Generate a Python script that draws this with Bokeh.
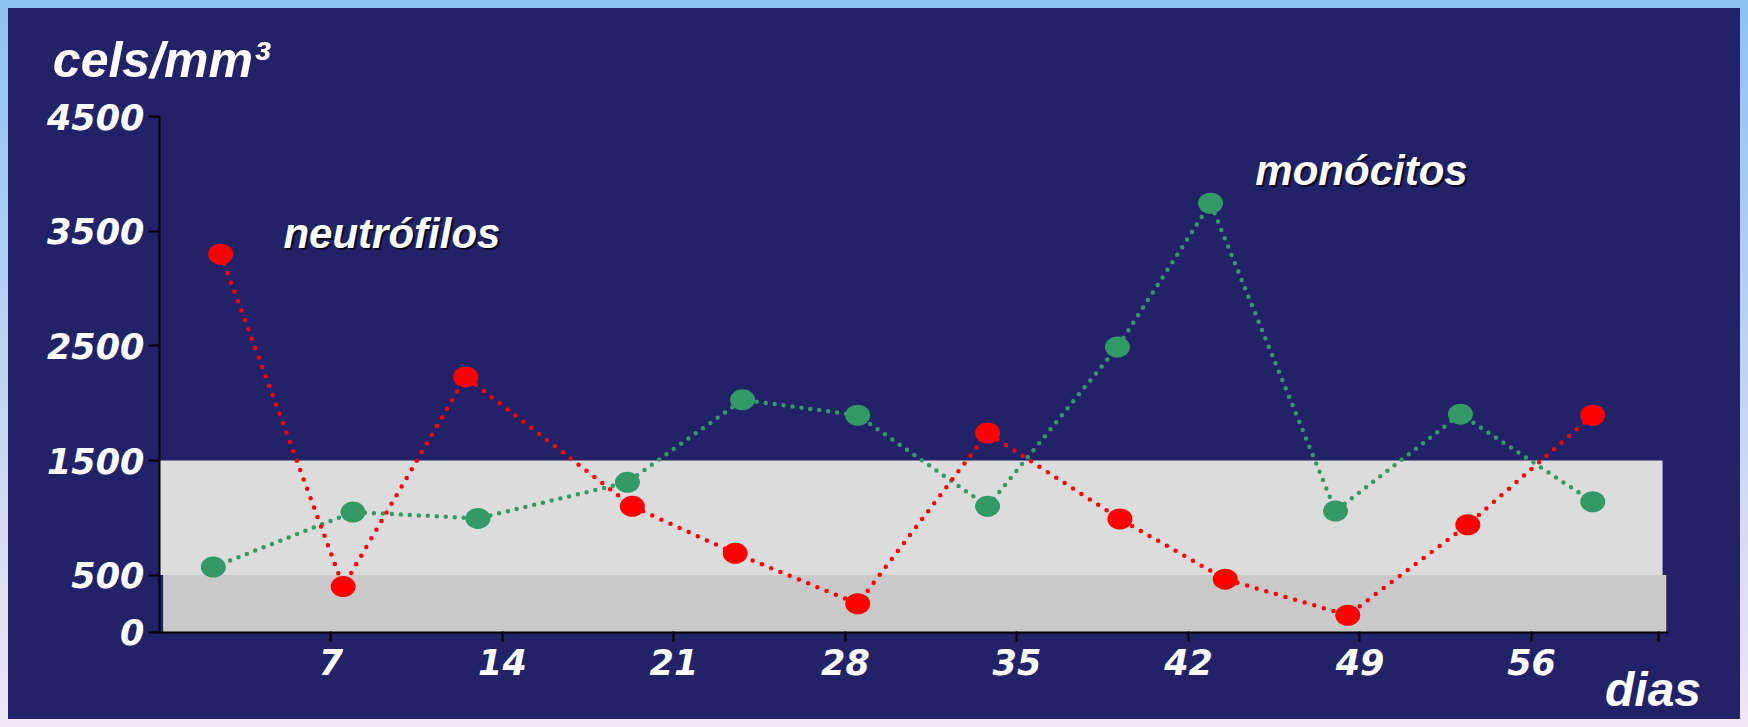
from bokeh.plotting import figure
from bokeh.models import Range1d, FixedTicker, Label, ColumnDataSource
from bokeh.embed import file_html
from bokeh.resources import INLINE

# ---- data ----
days_neu = [2.5, 7.5, 12.5, 19.3, 23.5, 28.5, 33.8, 39.2, 43.5, 48.5, 53.4, 58.5]
neutrofilos = [3300, 400, 2230, 1100, 690, 250, 1740, 990, 465, 150, 940, 1895]
days_mono = [2.2, 7.9, 13.0, 19.1, 23.8, 28.5, 33.8, 39.1, 42.9, 48.0, 53.1, 58.5]
monocitos = [570, 1050, 995, 1310, 2030, 1895, 1100, 2490, 3745, 1060, 1905, 1140]

x_ticks = [7, 14, 21, 28, 35, 42, 49, 56, 61.2]
x_tick_labels = ["7", "14", "21", "28", "35", "42", "49", "56", ""]
y_ticks = [0, 500, 1500, 2500, 3500, 4500]

band_bottom = [0, 500]
band_top = [500, 1500]
band_left = [0.15, 0.0]
band_right = [61.5, 61.35]
band_colors = ["#C9C9C9", "#DCDCDC"]

NAVY = "#222269"
RED = "#FF0000"
GREEN = "#339966"

# the frame fills the whole figure; axes are pinned at x=0 / y=0
p = figure(width=1732, height=711, x_range=Range1d(-6.16, 64.53), y_range=Range1d(-760, 5445),
           output_backend="svg", toolbar_location=None, title=None,
           min_border_left=0, min_border_right=0, min_border_top=0, min_border_bottom=0)
p.background_fill_color = NAVY
p.border_fill_color = NAVY
p.outline_line_color = None
p.xgrid.visible = False
p.ygrid.visible = False

# reference bands
p.quad(left=band_left, right=band_right, bottom=band_bottom, top=band_top,
       fill_color=band_colors, line_color=None)

src_m = ColumnDataSource(dict(x=days_mono, y=monocitos))
src_n = ColumnDataSource(dict(x=days_neu, y=neutrofilos))

p.line("x", "y", source=src_m, line_color=GREEN, line_width=4.5, line_dash="0 9", line_cap="round")
p.ellipse("x", "y", source=src_m, width=25, height=21, width_units="screen", height_units="screen",
          fill_color=GREEN, line_color=None)
p.line("x", "y", source=src_n, line_color=RED, line_width=4.5, line_dash="0 10", line_cap="round")
p.ellipse("x", "y", source=src_n, width=25, height=21, width_units="screen", height_units="screen",
          fill_color=RED, line_color=None)

# axes
for ax in (p.xaxis, p.yaxis):
    ax.fixed_location = 0
    ax.axis_line_color = "black"
    ax.axis_line_width = 2
    ax.major_tick_line_color = "black"
    ax.major_tick_line_width = 2
    ax.minor_tick_line_color = None
    ax.major_label_text_color = "white"
    ax.major_label_text_font = "DejaVu Sans"
    ax.major_label_text_font_style = "bold italic"
    ax.major_label_text_font_size = "35px"

p.xaxis.bounds = (-0.3, 61.6)
p.xaxis.ticker = FixedTicker(ticks=x_ticks)
p.xaxis.major_label_overrides = {t: l for t, l in zip(x_ticks, x_tick_labels)}
p.xaxis.major_tick_out = 9
p.xaxis.major_tick_in = 1
p.xaxis.major_label_standoff = 8

p.yaxis.bounds = (0, 4500)
p.yaxis.ticker = FixedTicker(ticks=y_ticks)
p.yaxis.major_tick_out = 11
p.yaxis.major_tick_in = 0
p.yaxis.major_label_standoff = 4


def add_text(txt, x, y, size, shadow=True):
    if shadow:
        p.add_layout(Label(x=x, y=y, text=txt, text_color="black", text_alpha=0.7,
                           text_font="Liberation Sans", text_font_style="bold italic",
                           text_font_size=size, text_baseline="alphabetic",
                           x_offset=2, y_offset=-2))
    p.add_layout(Label(x=x, y=y, text=txt, text_color="white",
                       text_font="Liberation Sans", text_font_style="bold italic",
                       text_font_size=size, text_baseline="alphabetic"))


add_text("cels/mm³", -4.35, 4995, "50px", shadow=False)
add_text("neutrófilos", 5.06, 3480, "42px")
add_text("monócitos", 44.73, 4035, "42px")
add_text("dias", 59.0, -500, "48px", shadow=False)

html = file_html(p, INLINE)
style = ("<style>html{background:linear-gradient(180deg,#8DC2F4 0%,#BFD3F2 50%,#F0E6F6 100%) !important;}"
         "body{padding:8px !important;box-sizing:border-box !important;"
         "background:#222269 content-box !important;}</style>")
html = html.replace("</head>", style + "</head>", 1)
open("out.html", "w").write(html)
